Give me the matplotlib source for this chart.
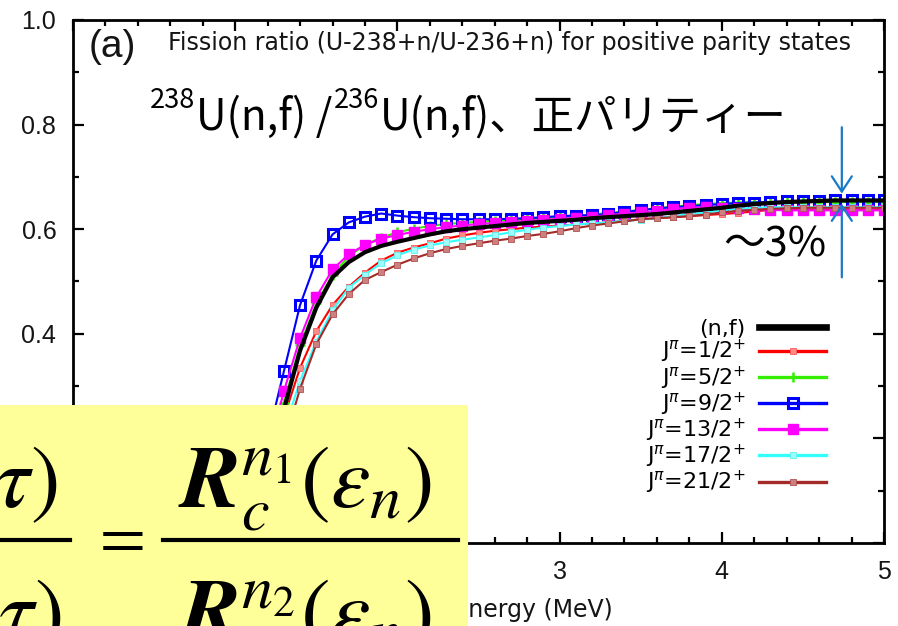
import numpy as np
import matplotlib.pyplot as plt
from matplotlib.ticker import MultipleLocator, FormatStrFormatter
from matplotlib.patches import Rectangle
from matplotlib.lines import Line2D

W, H = 898, 626

# neutron energy grid (MeV)
energy = np.round(np.arange(1.0, 5.01, 0.1), 1)

# fission ratio U-238+n / U-236+n
ratio_nf = [0.02, 0.07, 0.15,
            0.255, 0.368, 0.450, 0.508, 0.537, 0.556, 0.568,
            0.576, 0.583, 0.590, 0.596, 0.600, 0.603, 0.606, 0.609, 0.612, 0.614,
            0.616, 0.618, 0.621, 0.623, 0.625, 0.627, 0.629, 0.632, 0.635, 0.638,
            0.641, 0.645, 0.648, 0.650, 0.652, 0.653, 0.654, 0.655, 0.655, 0.655, 0.655]
ratio_j1 = [0.02, 0.06, 0.13,
            0.240, 0.335, 0.405, 0.455, 0.490, 0.517, 0.540,
            0.555, 0.565, 0.573, 0.582, 0.588, 0.593, 0.597, 0.600, 0.603, 0.605,
            0.607, 0.609, 0.611, 0.613, 0.616, 0.619, 0.621, 0.623, 0.625, 0.627,
            0.629, 0.631, 0.634, 0.637, 0.638, 0.638, 0.638, 0.638, 0.638, 0.638, 0.638]
ratio_j5 = [0.02, 0.07, 0.15,
            0.268, 0.378, 0.458, 0.513, 0.548, 0.570, 0.584,
            0.594, 0.601, 0.606, 0.610, 0.612, 0.614, 0.616, 0.617, 0.619, 0.621,
            0.623, 0.625, 0.628, 0.631, 0.634, 0.637, 0.640, 0.643, 0.646, 0.648,
            0.650, 0.651, 0.652, 0.652, 0.652, 0.652, 0.652, 0.652, 0.652, 0.652, 0.652]
ratio_j9 = [0.04, 0.10, 0.20,
            0.328, 0.455, 0.540, 0.590, 0.613, 0.624, 0.630,
            0.626, 0.623, 0.621, 0.620, 0.619, 0.619, 0.619, 0.620, 0.621, 0.623,
            0.625, 0.626, 0.627, 0.629, 0.633, 0.636, 0.640, 0.642, 0.644, 0.646,
            0.648, 0.650, 0.651, 0.652, 0.653, 0.654, 0.654, 0.655, 0.655, 0.655, 0.655]
ratio_j13 = [0.03, 0.08, 0.17,
             0.290, 0.392, 0.470, 0.523, 0.552, 0.570, 0.582,
             0.589, 0.595, 0.600, 0.604, 0.607, 0.610, 0.612, 0.614, 0.616, 0.618,
             0.620, 0.622, 0.624, 0.627, 0.630, 0.632, 0.635, 0.638, 0.641, 0.642,
             0.641, 0.640, 0.638, 0.637, 0.636, 0.636, 0.636, 0.636, 0.636, 0.636, 0.636]
ratio_j17 = [0.02, 0.05, 0.11,
             0.215, 0.310, 0.385, 0.445, 0.488, 0.513, 0.535,
             0.550, 0.561, 0.569, 0.575, 0.580, 0.584, 0.589, 0.594, 0.599, 0.603,
             0.606, 0.609, 0.611, 0.613, 0.616, 0.618, 0.621, 0.625, 0.629, 0.632,
             0.636, 0.639, 0.641, 0.642, 0.642, 0.642, 0.642, 0.642, 0.642, 0.642, 0.642]
ratio_j21 = [0.01, 0.04, 0.10,
             0.190, 0.295, 0.380, 0.437, 0.476, 0.503, 0.518,
             0.532, 0.544, 0.554, 0.562, 0.568, 0.573, 0.578, 0.582, 0.587, 0.591,
             0.596, 0.602, 0.607, 0.611, 0.615, 0.619, 0.621, 0.623, 0.625, 0.628,
             0.632, 0.635, 0.637, 0.639, 0.640, 0.641, 0.641, 0.641, 0.641, 0.641, 0.641]

labels = ['(n,f)', r'J$^{\pi}$=1/2$^{+}$', r'J$^{\pi}$=5/2$^{+}$', r'J$^{\pi}$=9/2$^{+}$',
          r'J$^{\pi}$=13/2$^{+}$', r'J$^{\pi}$=17/2$^{+}$', r'J$^{\pi}$=21/2$^{+}$']

fig = plt.figure(figsize=(W / 100, H / 100), dpi=100)
ax = fig.add_axes([73 / W, 1 - 543 / H, 811 / W, 523 / H])

ax.plot(energy, ratio_j1, color='#ff0000', lw=1.5, marker='s', ms=4, mfc='#ff8a8a', mec='#ff5a5a', mew=0.6, label=labels[1])
ax.plot(energy, ratio_j5, color='#33ee00', lw=1.5, marker='+', ms=7, mew=1.8, label=labels[2])
ax.plot(energy, ratio_j9, color='#0000ff', lw=1.5, marker='s', ms=7.5, mfc='none', mew=2.2, label=labels[3])
ax.plot(energy, ratio_j13, color='#ff00ff', lw=1.5, marker='s', ms=7.5, label=labels[4])
ax.plot(energy, ratio_j17, color='#33ffff', lw=1.5, marker='s', ms=4, mfc='#9ffcfc', mec='#5ff0f0', mew=0.6, label=labels[5])
ax.plot(energy, ratio_j21, color='#a52a2a', lw=1.5, marker='s', ms=4, mfc='#cc8080', mec='#b05050', mew=0.6, label=labels[6])
ax.plot(energy, ratio_nf, color='black', lw=3, zorder=4, label=labels[0])

ax.set_xlim(0, 5)
ax.set_ylim(0, 1)
ax.xaxis.set_major_locator(MultipleLocator(1))
ax.xaxis.set_minor_locator(MultipleLocator(0.2))
ax.yaxis.set_major_locator(MultipleLocator(0.2))
ax.yaxis.set_minor_locator(MultipleLocator(0.1))
ax.yaxis.set_major_formatter(FormatStrFormatter('%.1f'))
ax.tick_params(which='both', direction='in', top=True, right=True, width=1.6,
               labelsize=18, pad=12, labelcolor='#151515')
ax.tick_params(which='major', length=8)
ax.tick_params(which='minor', length=4)
for lab in ax.get_xticklabels() + ax.get_yticklabels():
    lab.set_family('Liberation Sans')
for sp in ax.spines.values():
    sp.set_linewidth(2)

ax.set_xlabel('Neutron energy (MeV)', fontsize=17, family='DejaVu Sans', color='#151515')
ax.xaxis.set_label_coords((613 - 73) / 811, -0.105)
ax.xaxis.label.set_horizontalalignment('right')

# legend: labels on the left, lines on the right
handles, labs = ax.get_legend_handles_labels()
order = [6, 0, 1, 2, 3, 4, 5]
leg = ax.legend([handles[i] for i in order], [labs[i] for i in order],
                loc='lower right', bbox_to_anchor=(0.942, 0.068), frameon=False,
                markerfirst=False, numpoints=1, handlelength=3.0, handletextpad=0.6,
                labelspacing=-0.05, borderpad=0, prop={'family': 'DejaVu Sans', 'size': 16})
for line in leg.get_lines():
    line.set_linewidth(line.get_linewidth() * 1.6)

# arrows marking the spread of the ratio at high energy
blue = '#1a7ac6'
arrow = dict(arrowstyle='->,head_length=0.55,head_width=0.36', color=blue, lw=1.6,
             mutation_scale=20, shrinkA=0, shrinkB=0)
ax.annotate('', xy=(4.74, 0.668), xytext=(4.74, 0.795), arrowprops=arrow, zorder=6)
ax.annotate('', xy=(4.74, 0.649), xytext=(4.74, 0.508), arrowprops=arrow, zorder=6)

fig.text(89 / W, 1 - 47 / H, '(a)', fontsize=28, family='Liberation Sans', va='center', color='#151515')
fig.text(168 / W, 1 - 50 / H, 'Fission ratio (U-238+n/U-236+n) for positive parity states',
         fontsize=17, family='DejaVu Sans', va='baseline', color='#151515')

renderer = fig.canvas.get_renderer()
jp = ['Noto Sans CJK JP', 'DejaVu Sans']
x_px = 150
for s, size, rise in [('238', 19.5, 22), ('U(n,f) /', 30.5, 0), ('236', 19.5, 22),
                      ('U(n,f)、正パリティー', 30.5, 0)]:
    t = fig.text(x_px / W, 1 - (130 - rise) / H, s, fontsize=size, family=jp, va='baseline')
    x_px += t.get_window_extent(renderer).width + 1

fig.text(723 / W, 1 - 257 / H, '～3%', fontsize=30, family=jp, va='baseline')

# yellow formula box over the lower left corner
fig.add_artist(Rectangle((0, 0), 468 / W, 1 - 405 / H, transform=fig.transFigure,
                         fc='#ffff99', ec='none', zorder=5))
ftxt = dict(math_fontfamily='stix', va='baseline', zorder=6, color='black')
fig.text(58 / W, 1 - 507 / H, r'$\sigma(E,\tau)$', ha='right', fontsize=64, **ftxt)
fig.text(62 / W, 1 - 640 / H, r'$\sigma(E,\tau)$', ha='right', fontsize=64, **ftxt)
fig.text(117 / W, 1 - 556 / H, r'$=$', ha='center', fontsize=48, **ftxt)
fig.text(178 / W, 1 - 507 / H, r'$\boldsymbol{R}_{c}^{n_1}(\varepsilon_{n})$', ha='left', fontsize=64, **ftxt)
fig.text(178 / W, 1 - 640 / H, r'$\boldsymbol{R}_{c}^{n_2}(\varepsilon_{n})$', ha='left', fontsize=64, **ftxt)
for x0, x1 in [(0, 70), (163, 458)]:
    fig.add_artist(Line2D([x0 / W, x1 / W], [1 - 540 / H] * 2, transform=fig.transFigure,
                          color='black', lw=3, zorder=6))

fig.savefig('out.png', dpi=100)
